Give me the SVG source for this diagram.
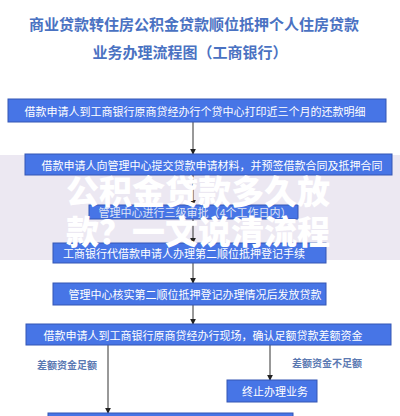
<svg xmlns="http://www.w3.org/2000/svg" width="400" height="416" viewBox="0 0 400 416">
<style>
.box{fill:#4775e6;stroke:#3556b4;stroke-width:1}
.bt{font-family:"Noto Sans CJK SC","Noto Sans",sans-serif;font-size:11px;fill:#ffffff;text-anchor:middle;dominant-baseline:central}
.title{font-family:"Noto Sans CJK SC","Noto Sans",sans-serif;font-size:15px;font-weight:bold;fill:#4a72c2;text-anchor:middle}
.lbl{font-family:"Noto Sans CJK SC","Noto Sans",sans-serif;font-size:10px;font-weight:bold;fill:#5b79b2;text-anchor:middle;dominant-baseline:central}
.ov{font-family:"Noto Sans CJK SC","Noto Sans",sans-serif;font-size:33px;font-weight:900;fill:#ffffff;text-anchor:middle}
.con{stroke:#333;stroke-width:1;fill:none;marker-end:url(#ah)}
</style>
<defs>
<marker id="ah" viewBox="0 0 8 8" refX="7" refY="4" markerWidth="6" markerHeight="6" orient="auto" markerUnits="userSpaceOnUse">
<path d="M0,0 L8,4 L0,8 z" fill="#222"/>
</marker>
</defs>
<rect x="0" y="0" width="400" height="416" fill="#ffffff"/>
<rect x="0" y="155" width="400" height="105" fill="#ece8f2"/>
<g id="title">
<text class="title" x="194" y="30">商业贷款转住房公积金贷款顺位抵押个人住房贷款</text>
<text class="title" x="190" y="58">业务办理流程图（工商银行）</text>
</g>
<g id="connectors">
<line class="con" x1="193" y1="122" x2="193" y2="154"/>
<line class="con" x1="193" y1="175" x2="193" y2="205"/>
<line class="con" x1="193" y1="219" x2="193" y2="243"/>
<line class="con" x1="193" y1="263" x2="193" y2="283"/>
<line class="con" x1="193" y1="305" x2="193" y2="324"/>
<line class="con" x1="108" y1="345" x2="108" y2="413"/>
<line class="con" x1="270" y1="345" x2="270" y2="380"/>
</g>
<g id="n1"><rect class="box" x="8" y="99" width="378" height="23"/><text class="bt" x="195" y="110.5">借款申请人到工商银行原商贷经办行个贷中心打印近三个月的还款明细</text></g>
<g id="n2"><rect class="box" x="25" y="154" width="367" height="21"/><text class="bt" x="212" y="164.5">借款申请人向管理中心提交贷款申请材料，并预签借款合同及抵押合同</text></g>
<g id="n3"><rect class="box" x="89" y="205" width="209" height="14"/><text class="bt" x="195" y="212" style="fill:#dfe4f5">管理中心进行三级审批（4个工作日内）</text></g>
<g id="n4"><rect class="box" x="53" y="243" width="273" height="20"/><text class="bt" x="184" y="253">工商银行代借款申请人办理第二顺位抵押登记手续</text></g>
<g id="n5"><rect class="box" x="53" y="283" width="273" height="22"/><text class="bt" x="195" y="294">管理中心核实第二顺位抵押登记办理情况后发放贷款</text></g>
<g id="n6"><rect class="box" x="26" y="324" width="365" height="21"/><text class="bt" x="203" y="334.5">借款申请人到工商银行原商贷经办行现场，确认足额贷款差额资金</text></g>
<g id="n7"><rect class="box" x="227" y="380" width="90" height="22"/><text class="bt" x="275" y="391">终止办理业务</text></g>
<g id="n8"><rect class="box" x="48" y="413" width="245" height="10"/></g>
<g id="labels">
<text class="lbl" x="67" y="364">差额资金足额</text>
<text class="lbl" x="327" y="362">差额资金不足额</text>
</g>
<g id="overlay">
<text class="ov" x="198" y="204">公积金贷款多久放</text>
<text class="ov" x="198" y="244">款？一文说清流程</text>
</g>
</svg>
